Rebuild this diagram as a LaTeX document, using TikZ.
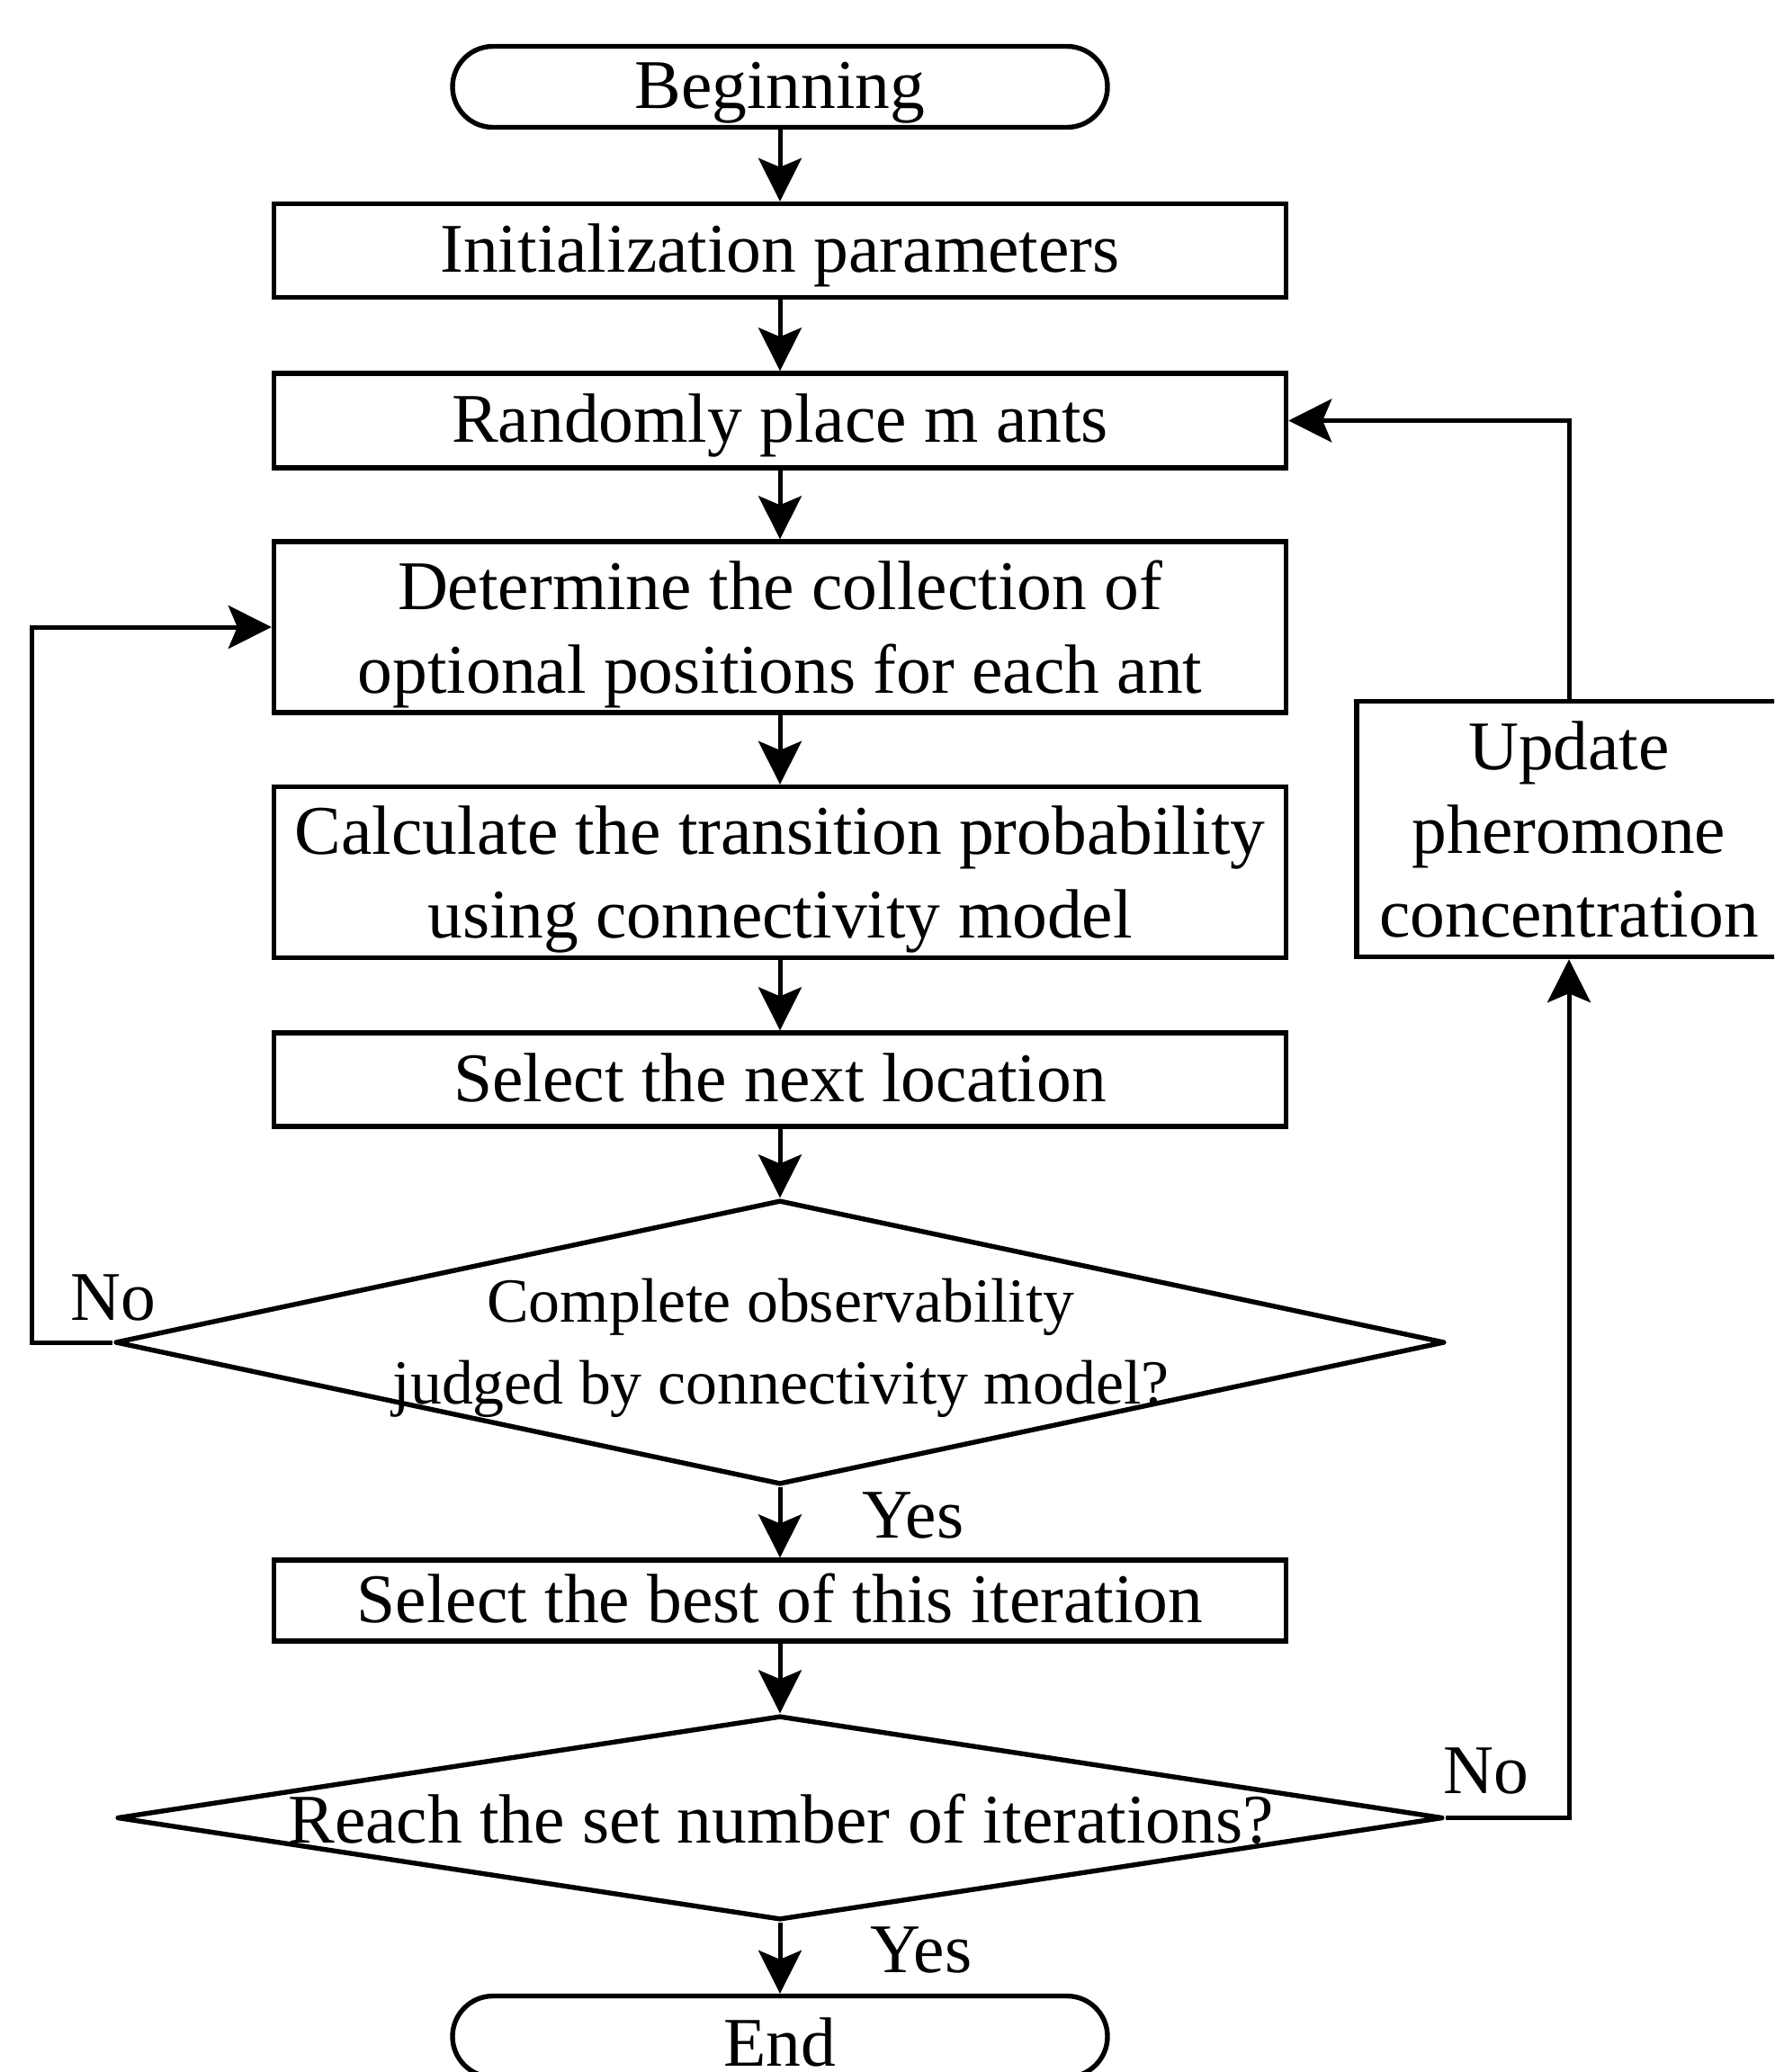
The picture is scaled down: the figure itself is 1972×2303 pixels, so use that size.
\documentclass[tikz,border=0pt]{standalone}
\usepackage{fontspec}
\setmainfont{Liberation Serif}
\usetikzlibrary{shapes.geometric,arrows.meta}
\newcommand\bigf{\fontsize{38.75pt}{46.5pt}\selectfont}
\newcommand\midf{\fontsize{34.9pt}{45.75pt}\selectfont}
\newcommand\lastl[1]{\raisebox{0pt}[\height][0pt]{#1}}
\tikzset{
  shp/.style={draw, line width=2.7pt, inner sep=0pt, align=center, font=\bigf},
  box/.style={shp, rectangle, minimum width=562.5pt, text height=24pt, text depth=0pt},
  mbox/.style={shp, rectangle, minimum width=562.5pt},
  term/.style={shp, rectangle, rounded corners=22.5pt, minimum width=364pt, minimum height=45pt, text height=24pt, text depth=0pt},
  dec/.style={draw, diamond, line width=2.7pt, inner sep=0pt, line join=round},
  txt/.style={inner sep=0pt, align=center},
  lab/.style={inner sep=0pt, anchor=base, font=\bigf},
  conn/.style={line width=2.5pt, -{Stealth[length=24pt,width=24pt,inset=5pt]}},
}
\begin{document}
\begin{tikzpicture}[x=0.5pt,y=-0.5pt]
\useasboundingbox (0,0) rectangle (1972,2303);
\fill[white] (0,0) rectangle (1972,2303);
\clip (0,0) rectangle (1972,2303);

\node[term] (begin) at (867,96.5) {Beginning};
\node[box, minimum height=52pt] (init) at (867,278.5) {Initialization parameters};
\node[box, minimum height=52.5pt] (place) at (867,467.5) {Randomly place m ants};
\node[mbox, minimum height=95pt] (determ) at (867,697) {Determine the collection of\\\lastl{optional positions for each ant}};
\node[mbox, minimum height=95pt] (calc) at (867,969.5) {Calculate the transition probability\\\lastl{using connectivity model}};
\node[box, minimum height=52pt] (next) at (867,1200) {Select the next location};
\node[dec, minimum width=739pt, minimum height=158pt] (d1) at (867,1492) {};
\node[txt, font=\midf] (d1t) at (868,1491) {Complete observability\\\lastl{judged by connectivity model?}};
\node[box, minimum height=45pt] (best) at (867,1779) {Select the best of this iteration};
\node[dec, minimum width=737pt, minimum height=113.5pt] (d2) at (867,2020.5) {};
\node[txt, font=\bigf, text height=24pt, text depth=0pt] (d2t) at (868,2024) {Reach the set number of iterations?};
\node[term, text height=33pt] (end) at (867,2263.5) {End};
\node[mbox, minimum width=236pt, minimum height=142pt] (update) at (1744,921.5) {Update\\pheromone\\\lastl{concentration}};

\coordinate (lx) at (35.5,0);

\draw[conn] (begin) -- (init);
\draw[conn] (init) -- (place);
\draw[conn] (place) -- (determ);
\draw[conn] (determ) -- (calc);
\draw[conn] (calc) -- (next);
\draw[conn] (next) -- (d1);
\draw[conn] (d1.south) -- (best);
\draw[conn] (best) -- (d2);
\draw[conn] (d2.south) -- (end);
\draw[conn] (d1.west) -- (d1.west -| lx) |- (determ.west);
\draw[conn] (d2.east) -| (update.south);
\draw[conn] (update.north) |- (place.east);

\node[lab] (no1) at (125.5,1467) {No};
\node[lab] (no2) at (1652,1993) {No};
\node[lab] (yes1) at (1015,1709) {Yes};
\node[lab] (yes2) at (1024,2192) {Yes};
\end{tikzpicture}
\end{document}
